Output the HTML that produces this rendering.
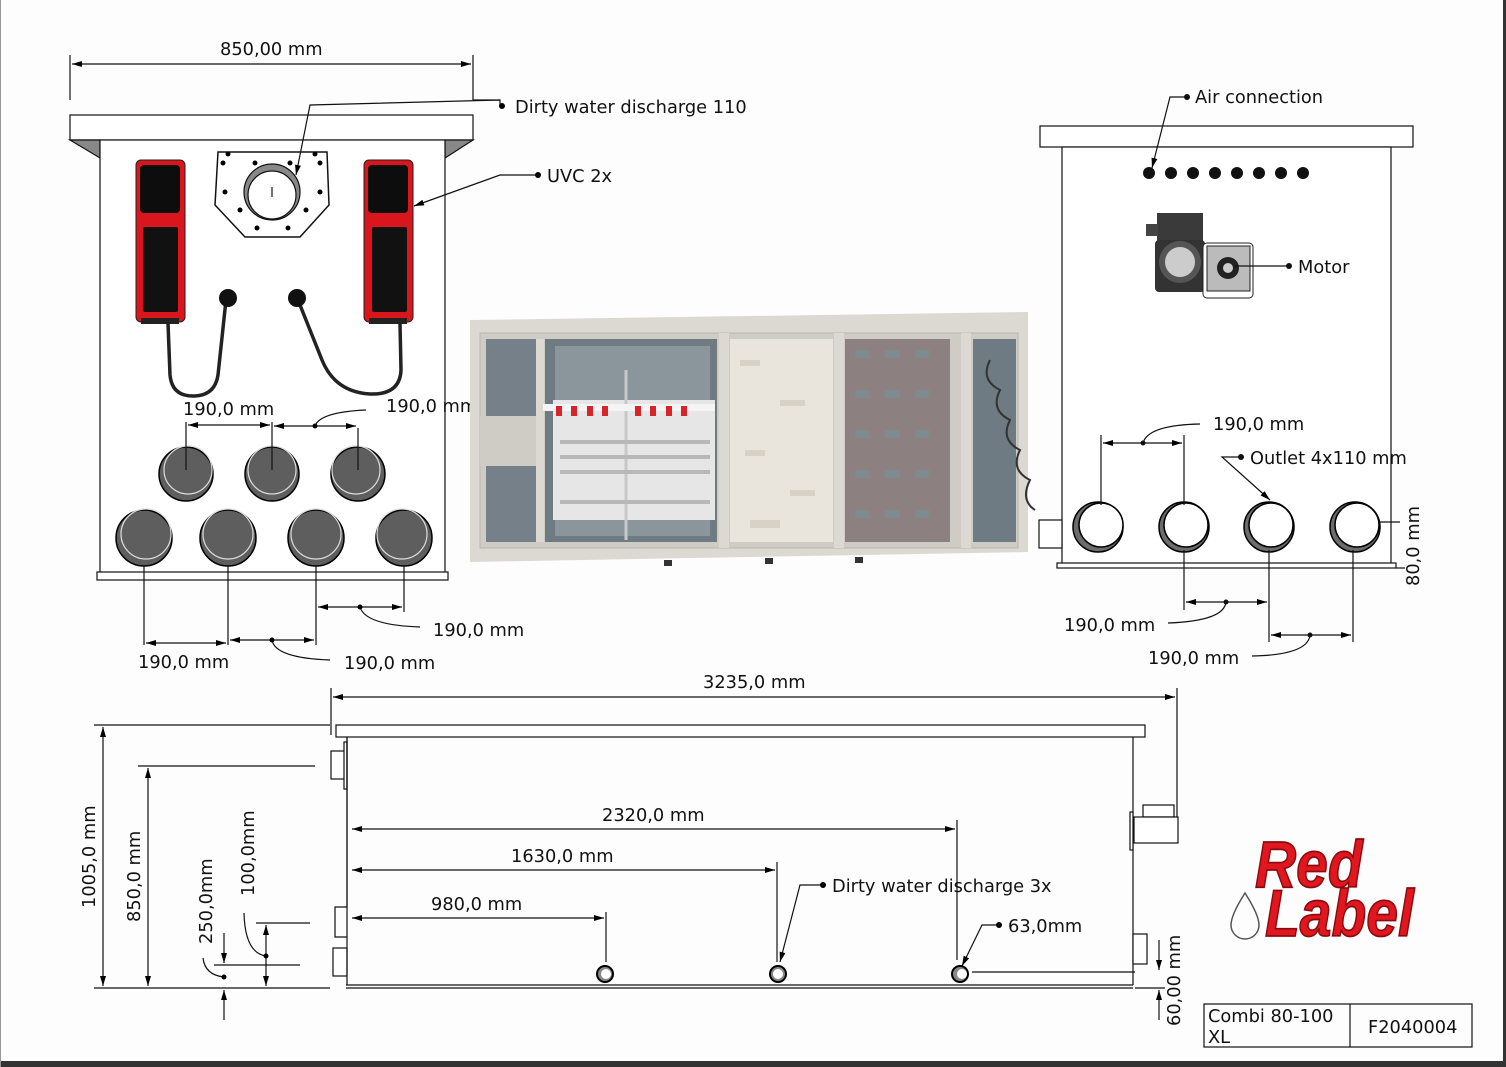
<!DOCTYPE html>
<html><head><meta charset="utf-8"><style>
html,body{margin:0;padding:0;background:#fff}
svg{display:block}
text{font-family:"DejaVu Sans","Liberation Sans",sans-serif;font-size:17.8px;fill:#111}
</style></head><body>
<svg width="1506" height="1067" viewBox="0 0 1506 1067" xmlns="http://www.w3.org/2000/svg">
<defs>
<marker id="a" viewBox="0 0 10 6" refX="10" refY="3" markerWidth="14" markerHeight="6" markerUnits="userSpaceOnUse" orient="auto-start-reverse"><path d="M0,0L10,3L0,6z" fill="#000"/></marker>
</defs>
<rect width="1506" height="1067" fill="#fdfdfd"/>
<rect x="0" y="1061" width="1506" height="6" fill="#333"/>
<rect x="1503" y="0" width="3" height="1067" fill="#333"/>
<rect x="0" y="0" width="1" height="1067" fill="#999"/>

<g stroke="#111" stroke-width="1.2" fill="none">
<line x1="70" y1="55" x2="70" y2="100"/><line x1="473" y1="55" x2="473" y2="100"/>
<line x1="72" y1="64" x2="471" y2="64" marker-start="url(#a)" marker-end="url(#a)"/>
<rect x="70" y="115" width="403" height="25" fill="#fff"/>
<polygon points="70,140 100,158 100,140" fill="#888"/>
<polygon points="473,140 445,158 445,140" fill="#888"/>
<rect x="100" y="140" width="345" height="435" fill="#fff"/>
<rect x="97" y="572" width="351" height="8" fill="#fff"/>
<polygon points="218,152 327,152 329,205 300,237 245,237 215,205" fill="#fff" stroke-width="1.5"/>
<circle cx="272" cy="192" r="28" fill="#888"/><circle cx="272" cy="195" r="24" fill="#fff"/>
<line x1="272" y1="187" x2="272" y2="197"/>
<polyline points="500,106 500,100 310,105 296,175" marker-end="url(#a)"/>
<line x1="473" y1="100" x2="500" y2="100"/>
<polyline points="536,175 500,175 414,206" marker-end="url(#a)"/>
</g>
<g fill="#000">
<circle cx="228" cy="154" r="2.5"/><circle cx="315" cy="154" r="2.5"/>
<circle cx="223" cy="163" r="2.5"/><circle cx="255" cy="163" r="2.5"/><circle cx="290" cy="163" r="2.5"/><circle cx="320" cy="163" r="2.5"/>
<circle cx="225" cy="192" r="2.5"/><circle cx="320" cy="192" r="2.5"/>
<circle cx="240" cy="210" r="2.5"/><circle cx="306" cy="210" r="2.5"/>
<circle cx="257" cy="228" r="2.5"/><circle cx="288" cy="228" r="2.5"/>
<circle cx="502" cy="106" r="3"/><circle cx="538" cy="175" r="3"/>
</g>
<g>
<rect x="136" y="160" width="49" height="162" rx="5" fill="#d8161c" stroke="#222"/>
<rect x="140" y="165" width="40" height="48" rx="4" fill="#0d0d0d"/>
<rect x="143" y="227" width="35" height="85" rx="2" fill="#111"/>
<rect x="141" y="318" width="38" height="6" fill="#222"/>
<rect x="364" y="160" width="49" height="162" rx="5" fill="#d8161c" stroke="#222"/>
<rect x="368" y="165" width="40" height="48" rx="4" fill="#0d0d0d"/>
<rect x="372" y="227" width="35" height="85" rx="2" fill="#111"/>
<rect x="369" y="318" width="38" height="6" fill="#222"/>
</g>
<g fill="none" stroke="#222" stroke-width="3.5">
<path d="M168,323 L170,375 Q172,397 195,396 Q215,395 218,375 L226,300"/>
<path d="M400,323 L401,370 Q400,395 370,394 Q335,392 322,360 L298,300"/>
</g>
<circle cx="228" cy="298" r="9" fill="#111"/><circle cx="297" cy="298" r="9" fill="#111"/>
<g stroke="#000" stroke-width="1.5">
<g fill="#5e5e5e">
<circle cx="186" cy="474" r="27"/><circle cx="272" cy="474" r="27"/><circle cx="358" cy="474" r="27"/>
<circle cx="144" cy="538" r="28"/><circle cx="228" cy="538" r="28"/><circle cx="316" cy="538" r="28"/><circle cx="404" cy="538" r="28"/>
</g>
<g fill="none" stroke="#ddd" stroke-width="1.2">
<circle cx="188" cy="470" r="24"/><circle cx="272" cy="470" r="24"/><circle cx="356" cy="470" r="24"/>
<circle cx="146" cy="534" r="25"/><circle cx="228" cy="534" r="25"/><circle cx="316" cy="534" r="25"/><circle cx="402" cy="534" r="25"/>
</g>
</g>
<g stroke="#111" stroke-width="1.2" fill="none">
<line x1="186" y1="422" x2="186" y2="470"/><line x1="272" y1="422" x2="272" y2="470"/><line x1="358" y1="428" x2="358" y2="470"/>
<line x1="188" y1="425" x2="270" y2="425" marker-start="url(#a)" marker-end="url(#a)"/>
<line x1="274" y1="426" x2="356" y2="426" marker-start="url(#a)" marker-end="url(#a)"/>
<path d="M315,426 Q320,412 366,410"/>
<line x1="144" y1="565" x2="144" y2="645"/><line x1="228" y1="565" x2="228" y2="645"/><line x1="316" y1="565" x2="316" y2="645"/><line x1="404" y1="565" x2="404" y2="612"/>
<line x1="146" y1="643" x2="226" y2="643" marker-start="url(#a)" marker-end="url(#a)"/>
<line x1="230" y1="640" x2="314" y2="640" marker-start="url(#a)" marker-end="url(#a)"/>
<line x1="318" y1="607" x2="402" y2="607" marker-start="url(#a)" marker-end="url(#a)"/>
<path d="M272,640 Q275,658 330,660"/>
<path d="M360,607 Q365,625 420,627"/>
</g>
<g fill="#000"><circle cx="315" cy="426" r="2.5"/><circle cx="272" cy="640" r="2.5"/><circle cx="360" cy="607" r="2.5"/></g>
<text x="220" y="55">850,00 mm</text>
<text x="515" y="113">Dirty water discharge 110</text>
<text x="547" y="182">UVC 2x</text>
<text x="183" y="415">190,0 mm</text>
<text x="386" y="412">190,0 mm</text>
<text x="433" y="636">190,0 mm</text>
<text x="138" y="668">190,0 mm</text>
<text x="344" y="669">190,0 mm</text>

<!-- CENTER -->
<polygon points="470,320 1028,312 1028,552 470,562" fill="#dcd9d3"/>
<rect x="480" y="333" width="538" height="215" fill="#cfccc6" stroke="#b9b6b0"/>
<rect x="486" y="339" width="50" height="203" fill="#758088"/>
<rect x="545" y="339" width="172" height="203" fill="#6f7b83"/>
<rect x="555" y="346" width="155" height="190" fill="#8a959c"/>
<rect x="730" y="339" width="103" height="203" fill="#e9e5dc"/>
<g fill="#d8d2c4"><rect x="740" y="360" width="20" height="6"/><rect x="780" y="400" width="25" height="6"/><rect x="745" y="450" width="20" height="6"/><rect x="790" y="490" width="25" height="6"/><rect x="750" y="520" width="30" height="8"/></g>
<rect x="845" y="339" width="105" height="203" fill="#8c8080"/>
<rect x="973" y="339" width="43" height="203" fill="#6f7b83"/>
<rect x="536" y="339" width="8" height="203" fill="#dcd9d3"/>
<rect x="719" y="333" width="10" height="215" fill="#dcd9d3"/>
<rect x="834" y="333" width="10" height="215" fill="#dcd9d3"/>
<rect x="961" y="333" width="10" height="215" fill="#dcd9d3"/>
<rect x="480" y="416" width="56" height="50" fill="#cfccc6"/>
<rect x="553" y="400" width="80" height="120" fill="#e6e6e6"/>
<rect x="630" y="400" width="85" height="120" fill="#e6e6e6"/>
<line x1="626" y1="370" x2="626" y2="540" stroke="#c8c8c8" stroke-width="3"/>
<g fill="#b8b8b8"><rect x="560" y="440" width="150" height="4"/><rect x="560" y="455" width="150" height="4"/><rect x="560" y="470" width="150" height="4"/><rect x="560" y="500" width="150" height="4"/></g>
<rect x="543" y="404" width="172" height="7" fill="#f4f4f4"/>
<g fill="#d7262b"><rect x="556" y="406" width="6" height="10"/><rect x="571" y="406" width="6" height="10"/><rect x="587" y="406" width="6" height="10"/><rect x="602" y="406" width="6" height="10"/><rect x="635" y="406" width="6" height="10"/><rect x="650" y="406" width="6" height="10"/><rect x="666" y="406" width="6" height="10"/><rect x="681" y="406" width="6" height="10"/></g>
<g fill="#7d8a90"><rect x="855" y="350" width="15" height="8"/><rect x="885" y="350" width="15" height="8"/><rect x="915" y="350" width="15" height="8"/><rect x="855" y="390" width="15" height="8"/><rect x="885" y="390" width="15" height="8"/><rect x="915" y="390" width="15" height="8"/><rect x="855" y="430" width="15" height="8"/><rect x="885" y="430" width="15" height="8"/><rect x="915" y="430" width="15" height="8"/><rect x="855" y="470" width="15" height="8"/><rect x="885" y="470" width="15" height="8"/><rect x="915" y="470" width="15" height="8"/><rect x="855" y="510" width="15" height="8"/><rect x="885" y="510" width="15" height="8"/><rect x="915" y="510" width="15" height="8"/></g>
<path d="M990,360 q-10,20 10,30 q-10,20 10,30 q-10,20 10,30 q-10,20 10,30 q-10,20 5,30" stroke="#333" stroke-width="2" fill="none"/>
<g fill="#333"><rect x="664" y="560" width="8" height="6"/><rect x="765" y="558" width="8" height="6"/><rect x="855" y="557" width="8" height="6"/></g>

<!-- RIGHT -->
<g stroke="#111" stroke-width="1.2" fill="#fff">
<rect x="1040" y="126" width="373" height="21"/>
<rect x="1062" y="147" width="329" height="418"/>
<rect x="1057" y="563" width="339" height="5"/>
<rect x="1039" y="520" width="23" height="28"/>
</g>
<g fill="#111">
<circle cx="1149" cy="173" r="6"/><circle cx="1171" cy="173" r="6"/><circle cx="1193" cy="173" r="6"/><circle cx="1215" cy="173" r="6"/><circle cx="1237" cy="173" r="6"/><circle cx="1259" cy="173" r="6"/><circle cx="1281" cy="173" r="6"/><circle cx="1303" cy="173" r="6"/>
<circle cx="1187" cy="97" r="3"/><circle cx="1289" cy="266" r="3"/><circle cx="1241" cy="457" r="3"/><circle cx="1143" cy="443" r="2.5"/><circle cx="1226" cy="602" r="2.5"/><circle cx="1310" cy="635" r="2.5"/>
</g>
<polyline points="1186,97 1170,97 1152,168" stroke="#111" stroke-width="1.2" fill="none" marker-end="url(#a)"/>
<rect x="1157" y="213" width="46" height="28" fill="#3a3a3a"/>
<rect x="1146" y="224" width="12" height="12" fill="#444"/>
<rect x="1155" y="240" width="50" height="52" rx="4" fill="#333"/>
<circle cx="1180" cy="262" r="21" fill="#555"/><circle cx="1180" cy="262" r="15" fill="#ccc"/>
<rect x="1203" y="243" width="50" height="55" rx="4" fill="#fff" stroke="#222"/>
<rect x="1207" y="246" width="43" height="45" fill="#bbb" stroke="#222"/>
<circle cx="1228" cy="268" r="11" fill="#222"/><circle cx="1228" cy="268" r="5" fill="#ccc"/>
<line x1="1235" y1="266" x2="1289" y2="266" stroke="#111" stroke-width="1.2"/>
<g stroke="#000" stroke-width="1.5">
<g fill="#6c6c6c"><circle cx="1098" cy="527" r="25"/><circle cx="1184" cy="527" r="25"/><circle cx="1269" cy="527" r="25"/><circle cx="1355" cy="527" r="25"/></g>
<g fill="#fff"><circle cx="1101" cy="525" r="22"/><circle cx="1186" cy="525" r="22"/><circle cx="1271" cy="525" r="22"/><circle cx="1357" cy="525" r="22"/></g>
</g>
<g stroke="#111" stroke-width="1.2" fill="none">
<line x1="1101" y1="435" x2="1101" y2="505"/><line x1="1184" y1="435" x2="1184" y2="505"/>
<line x1="1103" y1="443" x2="1182" y2="443" marker-start="url(#a)" marker-end="url(#a)"/>
<path d="M1143,443 Q1148,425 1200,424"/>
<polyline points="1240,457 1222,457 1270,500" marker-end="url(#a)"/>
<line x1="1184" y1="550" x2="1184" y2="610"/><line x1="1269" y1="550" x2="1269" y2="642"/><line x1="1353" y1="550" x2="1353" y2="642"/>
<line x1="1186" y1="602" x2="1267" y2="602" marker-start="url(#a)" marker-end="url(#a)"/>
<line x1="1271" y1="635" x2="1351" y2="635" marker-start="url(#a)" marker-end="url(#a)"/>
<path d="M1226,602 Q1224,621 1168,623"/>
<path d="M1310,635 Q1308,655 1252,656"/>
<line x1="1378" y1="522" x2="1400" y2="522"/><line x1="1396" y1="568" x2="1405" y2="568"/>
</g>
<text x="1195" y="103">Air connection</text>
<text x="1298" y="273">Motor</text>
<text x="1213" y="430">190,0 mm</text>
<text x="1250" y="464">Outlet 4x110 mm</text>
<text x="1064" y="631">190,0 mm</text>
<text x="1148" y="664">190,0 mm</text>
<text transform="translate(1419,586) rotate(-90)">80,0 mm</text>

<!-- BOTTOM -->
<g stroke="#111" stroke-width="1.2" fill="#fff">
<line x1="331" y1="688" x2="331" y2="735" fill="none"/>
<line x1="1177" y1="688" x2="1177" y2="843" fill="none"/>
<line x1="333" y1="697" x2="1175" y2="697" marker-start="url(#a)" marker-end="url(#a)"/>
<rect x="336" y="725" width="809" height="12"/>
<line x1="94" y1="725" x2="330" y2="725"/>
<rect x="331" y="751" width="15" height="28"/>
<rect x="344" y="742" width="3" height="47"/>
<path d="M347,737 L347,907 L335,907 L335,937 L347,937" fill="none"/>
<rect x="333" y="948" width="14" height="28"/>
<line x1="347" y1="737" x2="347" y2="985"/>
<line x1="1133" y1="737" x2="1133" y2="985"/>
<rect x="1143" y="805" width="31" height="12"/>
<rect x="1134" y="817" width="44" height="26"/>
<rect x="1130" y="812" width="3" height="38"/>
<rect x="1133" y="934" width="14" height="30"/>
<line x1="346" y1="985" x2="1133" y2="985"/>
<line x1="346" y1="988" x2="1133" y2="988"/>
<line x1="94" y1="988" x2="330" y2="988"/>
<line x1="138" y1="766" x2="315" y2="766"/>
<line x1="103" y1="727" x2="103" y2="986" marker-start="url(#a)" marker-end="url(#a)"/>
<line x1="148" y1="768" x2="148" y2="986" marker-start="url(#a)" marker-end="url(#a)"/>
<line x1="256" y1="923" x2="310" y2="923"/>
<line x1="214" y1="965" x2="300" y2="965"/>
<line x1="266" y1="925" x2="266" y2="986" marker-start="url(#a)" marker-end="url(#a)"/>
<line x1="224" y1="933" x2="224" y2="963" marker-end="url(#a)"/>
<line x1="224" y1="1020" x2="224" y2="990" marker-end="url(#a)"/>
<path d="M244,913 Q245,953 266,956" fill="none"/>
<path d="M203,958 Q205,975 224,977" fill="none"/>
<line x1="957" y1="820" x2="957" y2="960"/>
<line x1="777" y1="862" x2="777" y2="962"/>
<line x1="606" y1="912" x2="606" y2="962"/>
<line x1="955" y1="829" x2="352" y2="829" marker-end="url(#a)" marker-start="url(#a)"/>
<line x1="775" y1="870" x2="352" y2="870" marker-end="url(#a)" marker-start="url(#a)"/>
<line x1="604" y1="918" x2="352" y2="918" marker-end="url(#a)" marker-start="url(#a)"/>
<polyline points="822,885 800,885 780,962" fill="none" marker-end="url(#a)"/>
<polyline points="997,925 982,925 962,966" fill="none" marker-end="url(#a)"/>
<line x1="972" y1="972" x2="1135" y2="972"/>
<line x1="1135" y1="988" x2="1165" y2="988"/>
<line x1="1159" y1="940" x2="1159" y2="970" marker-end="url(#a)"/>
<line x1="1159" y1="1020" x2="1159" y2="990" marker-end="url(#a)"/>
</g>
<g stroke="#000" stroke-width="2" fill="#888">
<circle cx="605" cy="974" r="8"/><circle cx="778" cy="974" r="8"/><circle cx="960" cy="974" r="8"/>
</g>
<g fill="#fff"><circle cx="606" cy="974" r="5"/><circle cx="778" cy="974" r="5"/><circle cx="962" cy="974" r="5"/></g>
<g fill="#000"><circle cx="224" cy="977" r="2.5"/><circle cx="266" cy="956" r="2.5"/><circle cx="823" cy="885" r="3"/><circle cx="999" cy="925" r="3"/></g>
<text x="703" y="688">3235,0 mm</text>
<text x="602" y="821">2320,0 mm</text>
<text x="511" y="862">1630,0 mm</text>
<text x="431" y="910">980,0 mm</text>
<text x="832" y="892">Dirty water discharge 3x</text>
<text x="1008" y="932">63,0mm</text>
<text transform="translate(95,908) rotate(-90)">1005,0 mm</text>
<text transform="translate(140,922) rotate(-90)">850,0 mm</text>
<text transform="translate(212,944) rotate(-90)">250,0mm</text>
<text transform="translate(254,896) rotate(-90)">100,0mm</text>
<text transform="translate(1180,1026) rotate(-90)">60,00 mm</text>

<text x="1255" y="887" style="font-family:'Liberation Sans',sans-serif;font-size:60px;font-weight:bold;font-style:italic;fill:#e0171f;stroke:#8a0b0f;stroke-width:1.5" transform="translate(1255,887) scale(0.95,1.1) translate(-1255,-887)">Red</text>
<text x="1265" y="936" style="font-family:'Liberation Sans',sans-serif;font-size:60px;font-weight:bold;font-style:italic;fill:#e0171f;stroke:#8a0b0f;stroke-width:1.5" transform="translate(1265,936) scale(0.95,1.1) translate(-1265,-936)">Label</text>
<path d="M1245,893 Q1231,915 1231,925 A14,14 0 0 0 1259,925 Q1259,915 1245,893z" fill="none" stroke="#555" stroke-width="1.5"/>
<g stroke="#111" stroke-width="1.2" fill="none">
<rect x="1204" y="1004" width="268" height="43"/>
<line x1="1350" y1="1004" x2="1350" y2="1047"/>
</g>
<text x="1208" y="1022">Combi 80-100</text>
<text x="1208" y="1043">XL</text>
<text x="1368" y="1033">F2040004</text>
</svg>
</body></html>
